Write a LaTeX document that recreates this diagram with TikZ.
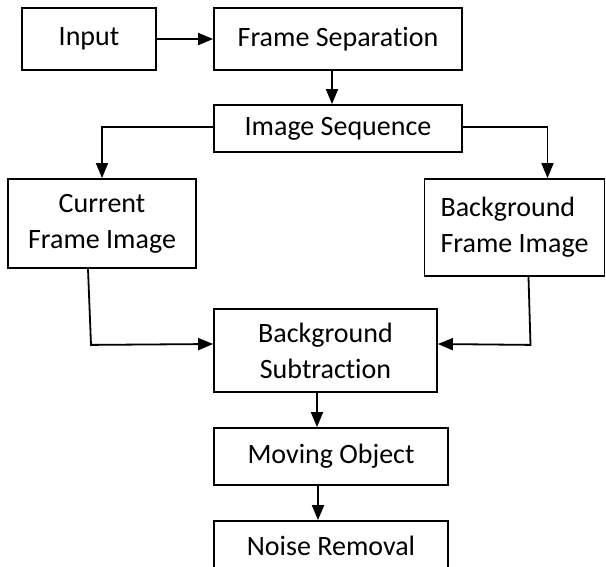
\documentclass[tikz,border=0pt]{standalone}
\usepackage{fontspec}
\setmainfont[Ligatures=NoCommon]{Carlito}
\usetikzlibrary{arrows.meta}

\begin{document}
\begin{tikzpicture}[x=1pt, y=-1pt,
  blk/.style={draw, line width=1.8pt, inner sep=0pt, font=\fontsize{28}{36}\selectfont, align=center},
  arr/.style={line width=1.8pt, -{Triangle[length=15pt,width=12pt]}}]
\clip (0,0) rectangle (606,566);
% processing blocks
\node[blk, minimum width=134pt, minimum height=62pt] (input) at (89,39) {Input};
\node[blk, minimum width=248pt, minimum height=62pt] (fsep) at (338,39) {Frame Separation};
\node[blk, minimum width=248pt, minimum height=47pt] (iseq) at (338,128.5) {Image Sequence};
\node[blk, minimum width=188pt, minimum height=89pt] (cfi) at (102,223.5) {Current\\Frame Image};
\node[blk, align=left, minimum width=180pt, minimum height=97pt] (bfi) at (514.5,227.5) {Background\\Frame Image};
\node[blk, minimum width=223pt, minimum height=83pt] (bsub) at (325.5,350.5) {Background\\Subtraction};
\node[blk, minimum width=234pt, minimum height=57pt] (mobj) at (331,456.5) {Moving Object};
\node[blk, minimum width=234pt, minimum height=50pt] (nrem) at (331,546) {Noise Removal};
% flow
\draw[arr] (input.east) -- (fsep.west);
\draw[arr] ([xshift=-6pt]fsep.south) -- ([xshift=-6pt]iseq.north);
\draw[arr] ([yshift=1.5pt]iseq.west) -| (cfi.north);
\draw[arr] ([yshift=1.5pt]iseq.east) -| ([xshift=33pt]bfi.north);
\draw[arr] ([xshift=-14pt]cfi.south) -- ++(3,76) -- ([yshift=6.5pt]bsub.west);
\draw[arr] ([xshift=14pt]bfi.south) -- ++(2,68) -- ([yshift=6.5pt]bsub.east);
\draw[arr] ([xshift=-8.5pt]bsub.south) -- ([xshift=-8.5pt]bsub.south |- mobj.north);
\draw[arr] ([xshift=-13pt]mobj.south) -- ([xshift=-13pt]nrem.north);
\end{tikzpicture}
\end{document}
